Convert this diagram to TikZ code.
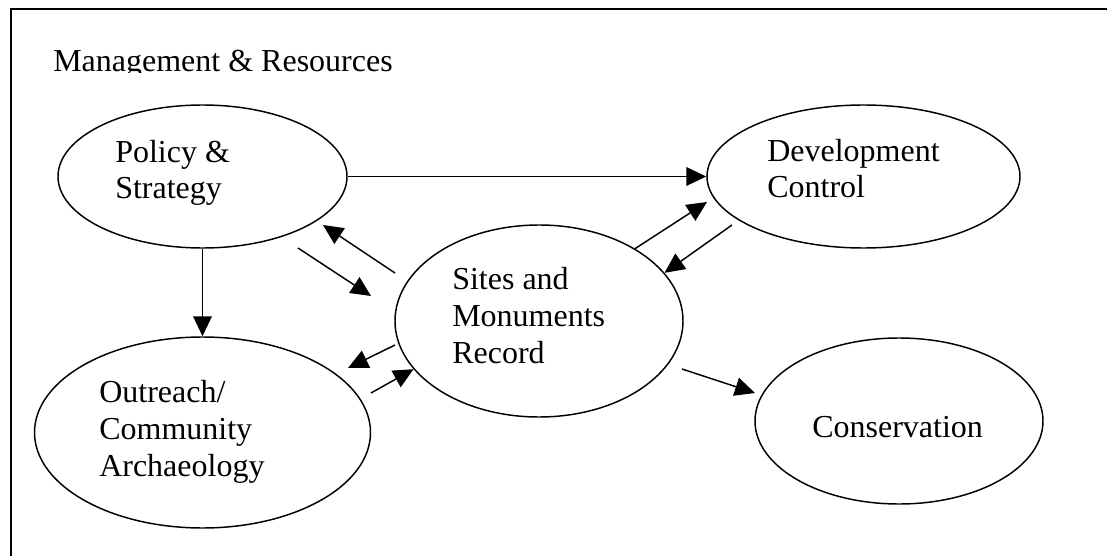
\documentclass[tikz,border=0pt]{standalone}
\usepackage{fontspec}
\setmainfont{Liberation Serif}
\usetikzlibrary{positioning,shapes,arrows.meta}

\begin{document}
\begin{tikzpicture}[x=0.75pt,y=-0.75pt,
    blob/.style={draw,ellipse,line width=1.1pt,inner sep=0pt},
    lbl/.style={anchor=base west,align=left,inner sep=0pt,font=\fontsize{24}{27.4}\selectfont},
    arr/.style={-{Triangle[length=15pt,width=14pt]},line width=1.1pt}]
    \clip (0,0) rectangle (1107,556);
    % Frame
    \draw[line width=2pt] (11,9) rectangle (1140,600);
    \begin{scope}
        \clip (0,0) rectangle (1107,73);
        \node[lbl] (title) at (53,72) {Management \& Resources};
    \end{scope}

    % Areas of work
    \node[blob,minimum width=216.75pt,minimum height=107.25pt] (policy) at (202.5,176.5) {};
    \node[blob,minimum width=234.75pt,minimum height=107.25pt] (devctrl) at (863.5,176.5) {};
    \node[blob,minimum width=216pt,minimum height=144pt] (smr) at (539,321) {};
    \node[blob,minimum width=252pt,minimum height=143.25pt] (outreach) at (202.5,432.5) {};
    \node[blob,minimum width=216pt,minimum height=124.5pt] (conserv) at (899,421) {};

    % base = last line
    \node[lbl] (policytxt) at (115,199) {Policy \&\\Strategy};
    \node[lbl] (devctrltxt) at (767,198) {Development\\Control};
    \node[lbl] (smrtxt) at (452,363) {Sites and\\Monuments\\Record};
    \node[lbl] (outreachtxt) at (99,476) {Outreach/\\Community\\Archaeology};
    \node[lbl] (conservtxt) at (812,437) {Conservation};

    % Loose ends of the flows
    \coordinate (smrpolA) at (395,273);
    \coordinate (smrpolB) at (323,225);
    \coordinate (polsmrA) at (298,248);
    \coordinate (polsmrB) at (371,296);
    \coordinate (smroutA) at (395,345);
    \coordinate (smroutB) at (348,368);
    \coordinate (outsmrA) at (371,393);
    \coordinate (smrdevB) at (707,202);
    \coordinate (devsmrA) at (732,225);
    \coordinate (smrconA) at (682,369);
    \coordinate (smrconB) at (755,393);

    \draw[arr] (policy.east) -- (devctrl.west);
    \draw[arr] (policy.south) -- (outreach.north);
    \draw[arr] (smrpolA) -- (smrpolB);
    \draw[arr] (polsmrA) -- (polsmrB);
    \draw[arr] (smroutA) -- (smroutB);
    \draw[arr] (outsmrA) -- (smr.201.6);
    \draw[arr] (smr.37.25) -- (smrdevB);
    \draw[arr] (devsmrA) -- (smr.21.7);
    \draw[arr] (smrconA) -- (smrconB);
\end{tikzpicture}
\end{document}
